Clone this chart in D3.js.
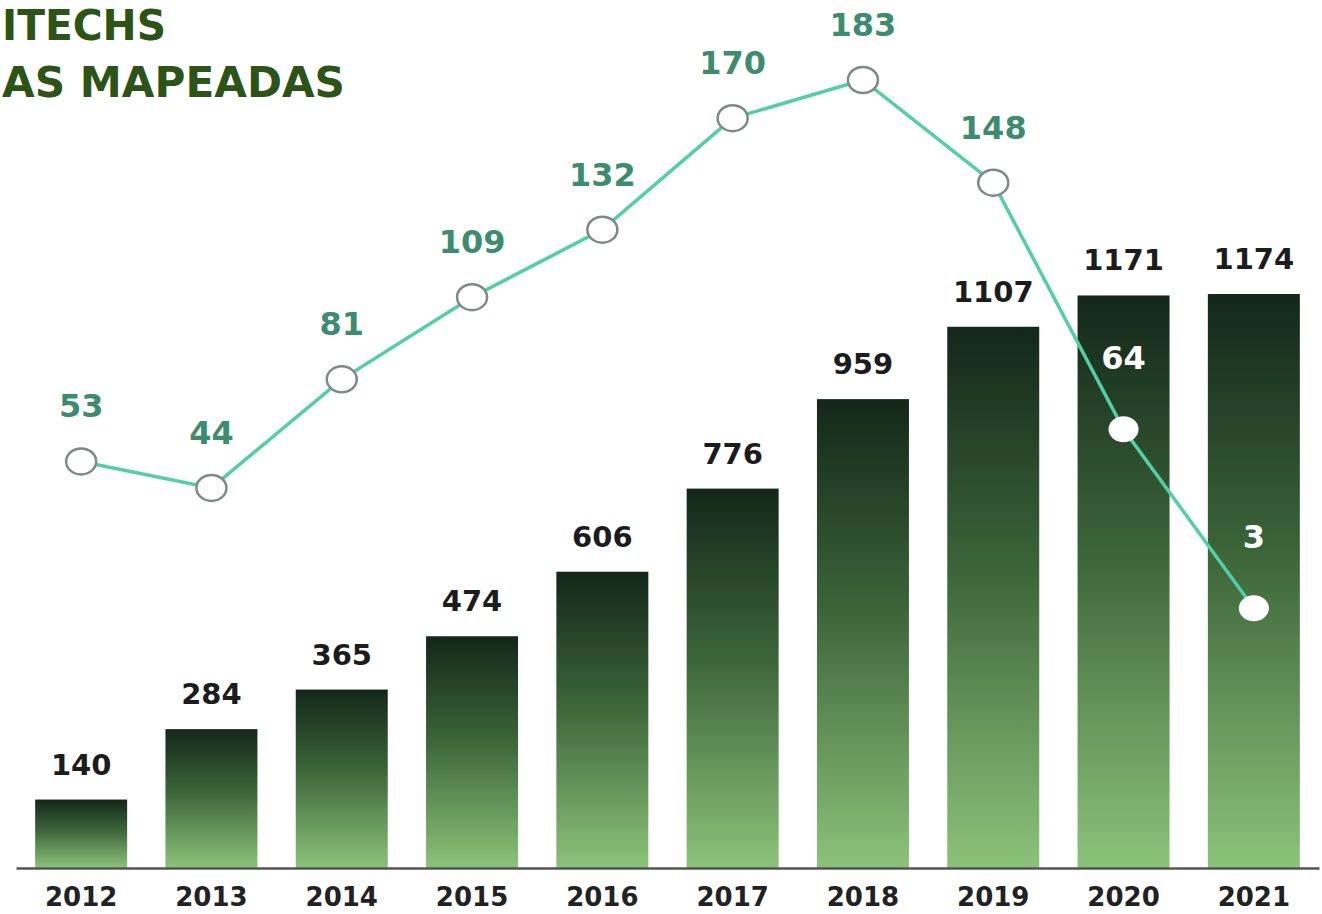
<!DOCTYPE html>
<html>
<head>
<meta charset="utf-8">
<script src="https://cdn.jsdelivr.net/npm/d3@7"></script>
<style>
  body { margin: 0; background: #fff; }
  svg { display: block; }
</style>
</head>
<body>
<script>
// data
const years = ['2012', '2013', '2014', '2015', '2016', '2017', '2018', '2019', '2020', '2021'];
const totals = [140, 284, 365, 474, 606, 776, 959, 1107, 1171, 1174];
const newOnes = [53, 44, 81, 109, 132, 170, 183, 148, 64, 3];
const titleLines = ['ITECHS', 'AS MAPEADAS'];

const width = 1322;
const height = 914;
const margin = { top: 80, right: 3, bottom: 46, left: 16 };
const baseY = height - margin.bottom;

const svg = d3.select('body').append('svg')
  .attr('width', width)
  .attr('height', height);

// gradient for the bars (dark top, light green bottom)
const grad = svg.append('defs').append('linearGradient')
  .attr('id', 'barGrad')
  .attr('x1', 0).attr('y1', 0)
  .attr('x2', 0).attr('y2', 1);
grad.append('stop').attr('offset', '0%').attr('stop-color', '#13271a');
grad.append('stop').attr('offset', '45%').attr('stop-color', '#3c6539');
grad.append('stop').attr('offset', '100%').attr('stop-color', '#8cc37a');

// scales
const x = d3.scaleBand()
  .domain(years)
  .range([margin.left, width - margin.right])
  .paddingInner(0.294)
  .paddingOuter(0.147);

const y = d3.scaleLinear()
  .domain([0, 1174])
  .range([baseY, 294]);

const yLine = d3.scaleLinear()
  .domain([0, 183])
  .range([617, margin.top]);

const rows = years.map((yr, i) => ({ year: yr, total: totals[i], added: newOnes[i] }));

// bars
svg.append('g')
  .selectAll('rect')
  .data(rows)
  .join('rect')
  .attr('x', d => x(d.year))
  .attr('y', d => y(d.total))
  .attr('width', x.bandwidth())
  .attr('height', d => baseY - y(d.total))
  .attr('fill', 'url(#barGrad)');

// bar values
svg.append('g')
  .selectAll('text')
  .data(rows)
  .join('text')
  .attr('x', d => x(d.year) + x.bandwidth() / 2)
  .attr('y', d => y(d.total) - 25)
  .attr('text-anchor', 'middle')
  .style('font-family', 'DejaVu Sans')
  .style('font-weight', 'bold')
  .style('font-size', '29px')
  .style('fill', '#1c1c1c')
  .text(d => d.total);

// x axis
const xAxis = svg.append('g')
  .attr('transform', `translate(0,${baseY})`)
  .call(d3.axisBottom(x).tickSize(0).tickPadding(20));
xAxis.select('.domain')
  .attr('stroke', '#555')
  .attr('stroke-width', 2.5);
xAxis.selectAll('text')
  .style('font-family', 'DejaVu Sans')
  .style('font-weight', 'bold')
  .style('font-size', '26px')
  .style('fill', '#222');

// line of new ones per year
const cx = d => x(d.year) + x.bandwidth() / 2;
const inBar = d => yLine(d.added) > y(d.total);

const line = d3.line()
  .x(cx)
  .y(d => yLine(d.added));

svg.append('path')
  .datum(rows)
  .attr('fill', 'none')
  .attr('stroke', '#52cfa5')
  .attr('stroke-width', 3.5)
  .attr('d', line);

svg.append('g')
  .selectAll('ellipse')
  .data(rows)
  .join('ellipse')
  .attr('cx', cx)
  .attr('cy', d => yLine(d.added))
  .attr('rx', 15)
  .attr('ry', 13)
  .attr('fill', '#fff')
  .attr('stroke', d => (inBar(d) ? 'none' : '#7d8a86'))
  .attr('stroke-width', 2.5);

svg.append('g')
  .selectAll('text')
  .data(rows)
  .join('text')
  .attr('x', cx)
  .attr('y', d => yLine(d.added) - (inBar(d) ? 60 : 44))
  .attr('text-anchor', 'middle')
  .style('font-family', 'DejaVu Sans')
  .style('font-weight', 'bold')
  .style('font-size', '32px')
  .style('fill', d => (inBar(d) ? '#ffffff' : '#3e8c70'))
  .text(d => d.added);

// title (cut at the left edge in the original)
svg.append('g')
  .selectAll('text')
  .data(titleLines)
  .join('text')
  .attr('x', 2)
  .attr('y', (d, i) => 40 + i * 57)
  .style('font-family', 'DejaVu Sans')
  .style('font-weight', 'bold')
  .style('font-size', '42px')
  .style('fill', '#2b5416')
  .attr('textLength', (d, i) => (i === 0 ? 164 : 343))
  .attr('lengthAdjust', 'spacingAndGlyphs')
  .text(d => d);
</script>
</body>
</html>
